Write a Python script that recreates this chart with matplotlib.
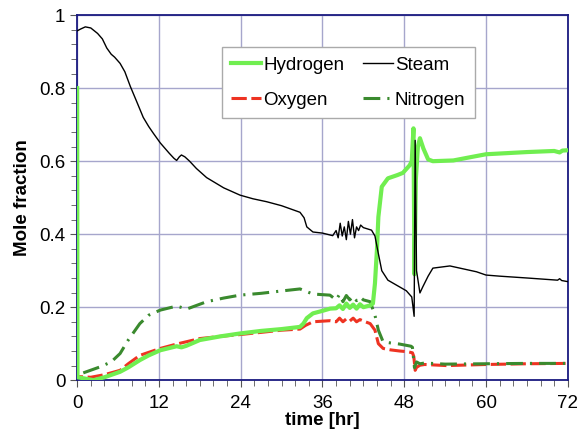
import numpy as np
import matplotlib
matplotlib.use("Agg")
import matplotlib.pyplot as plt
from matplotlib.ticker import MultipleLocator

plt.rcParams['font.family'] = ['Liberation Sans', 'DejaVu Sans']

# ---- data (time in hr, mole fraction) ----
t_steam = [0, 0.5, 1.2, 2, 3, 3.7, 4.35, 5, 5.5, 6.3, 7, 7.8, 8.7, 9.7, 10.5, 11.2,
           12.2, 13.5, 14.2, 14.6, 15.0, 15.3, 15.8, 16.5, 17.5, 19, 21.5, 23.9,
           25.8, 27.8, 30, 32.7, 33.3, 33.7, 34.6, 36,
           37.5, 38.0, 38.3, 38.6, 38.9, 39.2, 39.5, 39.8, 40.1, 40.4, 40.7, 41.0,
           41.3, 41.6, 42, 43.2, 43.7, 44.1, 44.7, 45.6, 46.9, 48.3, 49.1, 49.45,
           49.6, 49.8, 50.3, 50.7, 51.5, 52.2, 54.7, 58.6, 60, 62, 66, 70.5, 70.8,
           71.1, 72]
steam = [0.957, 0.962, 0.968, 0.965, 0.95, 0.935, 0.91, 0.893, 0.885, 0.868, 0.845,
         0.805, 0.765, 0.72, 0.695, 0.676, 0.65, 0.622, 0.608, 0.602, 0.612, 0.617,
         0.612, 0.600, 0.580, 0.555, 0.527, 0.507, 0.497, 0.489,
         0.478, 0.46, 0.445, 0.42, 0.406, 0.403, 0.396, 0.41, 0.39, 0.43, 0.395, 0.42,
         0.385, 0.435, 0.40, 0.44, 0.39, 0.42, 0.41, 0.425, 0.418, 0.411, 0.395, 0.356,
         0.30, 0.274, 0.26, 0.245, 0.228, 0.175, 0.657, 0.30, 0.239, 0.255, 0.285,
         0.307, 0.313, 0.297, 0.288, 0.285, 0.28, 0.274, 0.278, 0.273, 0.27]

t_h2 = [0, 0.05, 1, 2.4, 4, 6.3, 7.5, 9.2, 10.5, 12.2, 14.6, 15.3, 16, 18, 21, 23.9,
        27, 30, 32.7, 33.2, 33.7, 34.6, 36, 37.1, 38, 38.5, 39, 39.5, 40, 40.5, 41,
        41.5, 42, 43, 43.4, 43.7, 44.0, 44.2, 44.7, 45.6, 47, 47.8, 48.8, 49.1, 49.35,
        49.5, 49.7, 50.0, 50.3, 50.8, 51.5, 52.2, 55.2, 58, 60, 63, 66, 70, 70.8,
        71.2, 72]
h2 = [0.8, 0.008, 0.005, 0.0, 0.008, 0.023, 0.035, 0.055, 0.068, 0.082, 0.093, 0.09,
      0.094, 0.11, 0.12, 0.128, 0.135, 0.14, 0.146, 0.155, 0.17, 0.183, 0.19, 0.196,
      0.197, 0.205, 0.195, 0.21, 0.198, 0.207, 0.196, 0.208, 0.2, 0.205, 0.21, 0.265,
      0.36, 0.447, 0.53, 0.553, 0.562, 0.568, 0.589, 0.60, 0.69, 0.29, 0.55, 0.64,
      0.663, 0.635, 0.605, 0.60, 0.602, 0.612, 0.619, 0.622, 0.625, 0.628, 0.624,
      0.629, 0.63]

t_o2 = [0, 0.05, 2, 4, 6.3, 7.5, 9.2, 12.2, 14.6, 18, 21, 23.9, 27, 30, 32.7, 33.5,
        34.6, 37.1, 38, 38.5, 39, 39.5, 40, 40.5, 41, 41.5, 42, 43, 43.7, 44.2, 44.9,
        46, 47.3, 48.5, 49.2, 49.4, 49.6, 49.8, 50.3, 51, 54.2, 60, 66, 72]
o2 = [0.2, 0.01, 0.008, 0.015, 0.027, 0.045, 0.068, 0.087, 0.099, 0.114, 0.12, 0.125,
      0.131, 0.137, 0.14, 0.15, 0.16, 0.163, 0.16, 0.17, 0.16, 0.168, 0.162, 0.17,
      0.16, 0.166, 0.162, 0.155, 0.137, 0.10, 0.087, 0.083, 0.08, 0.078, 0.075, 0.065,
      0.027, 0.035, 0.041, 0.043, 0.04, 0.043, 0.045, 0.046]

t_n2 = [0.9, 3.3, 5, 6.3, 7.5, 9.2, 10.5, 12.2, 14.6, 16.1, 19, 21.5, 23.9, 27, 29.8,
        32.7, 34.6, 37.1, 38, 38.5, 39, 39.5, 40, 40.5, 41, 41.5, 42, 43, 43.7, 44.2,
        44.9, 46, 47.3, 49, 49.2, 49.5, 49.8, 50.3, 51, 54, 60, 66, 72]
n2 = [0.02, 0.036, 0.05, 0.073, 0.11, 0.155, 0.178, 0.192, 0.203, 0.195, 0.215, 0.225,
      0.233, 0.238, 0.244, 0.25, 0.236, 0.233, 0.22, 0.235, 0.215, 0.232, 0.22, 0.23,
      0.218, 0.228, 0.22, 0.215, 0.178, 0.137, 0.105, 0.102, 0.099, 0.093, 0.09,
      0.034, 0.05, 0.045, 0.047, 0.044, 0.045, 0.046, 0.046]

x_ticks = [0, 12, 24, 36, 48, 60, 72]
y_ticks = [0, 0.2, 0.4, 0.6, 0.8, 1]
y_tick_labels = ['0', '0.2', '0.4', '0.6', '0.8', '1']

# ---- plot ----
fig = plt.figure(figsize=(5.8, 4.34), dpi=100)
ax = fig.add_axes([0.133, 0.124, 0.846, 0.841])

h_o2, = ax.plot(t_o2, o2, color='#ee3322', lw=2.2, dashes=(5, 1.5), zorder=2, label='Oxygen')
h_n2, = ax.plot(t_n2, n2, color='#3a8a2e', lw=2.2, dashes=(5.5, 2.3, 0.7, 2.3), zorder=2, label='Nitrogen')
h_h2, = ax.plot(t_h2, h2, color='#70ee50', lw=3, zorder=3, label='Hydrogen')
h_st, = ax.plot(t_steam, steam, color='black', lw=1, zorder=4, label='Steam')

ax.set_xlim(0, 72)
ax.set_ylim(0, 1)
ax.set_xticks(x_ticks)
ax.set_yticks(y_ticks, y_tick_labels)
ax.xaxis.set_minor_locator(MultipleLocator(2))
ax.yaxis.set_minor_locator(MultipleLocator(0.04))
ax.tick_params(which='both', direction='out', color='#555555', labelsize=13.5)
ax.tick_params(which='major', length=5)
ax.tick_params(which='minor', length=4)
ax.tick_params(axis='x', pad=6)

ax.grid(True, which='major', color='#a6a6cc', lw=1)
ax.set_axisbelow(True)
for s in ax.spines.values():
    s.set_color('#1a1a80')
    s.set_linewidth(1.3)

ax.set_xlabel('time [hr]', fontsize=13.5, fontweight='bold', labelpad=0)
ax.set_ylabel('Mole fraction', fontsize=13.5, fontweight='bold', labelpad=6)

leg = ax.legend([h_h2, h_o2, h_st, h_n2], ['Hydrogen', 'Oxygen', 'Steam', 'Nitrogen'],
                ncol=2, loc='upper left', bbox_to_anchor=(0.295, 0.912),
                fontsize=13.5, frameon=True, fancybox=False, framealpha=1,
                edgecolor='#aaaaaa', handlelength=1.6, handletextpad=0.1,
                columnspacing=1.0, labelspacing=0.95, borderpad=0.5,
                borderaxespad=0)
leg.get_frame().set_linewidth(1)

fig.savefig('out.png', dpi=100)
